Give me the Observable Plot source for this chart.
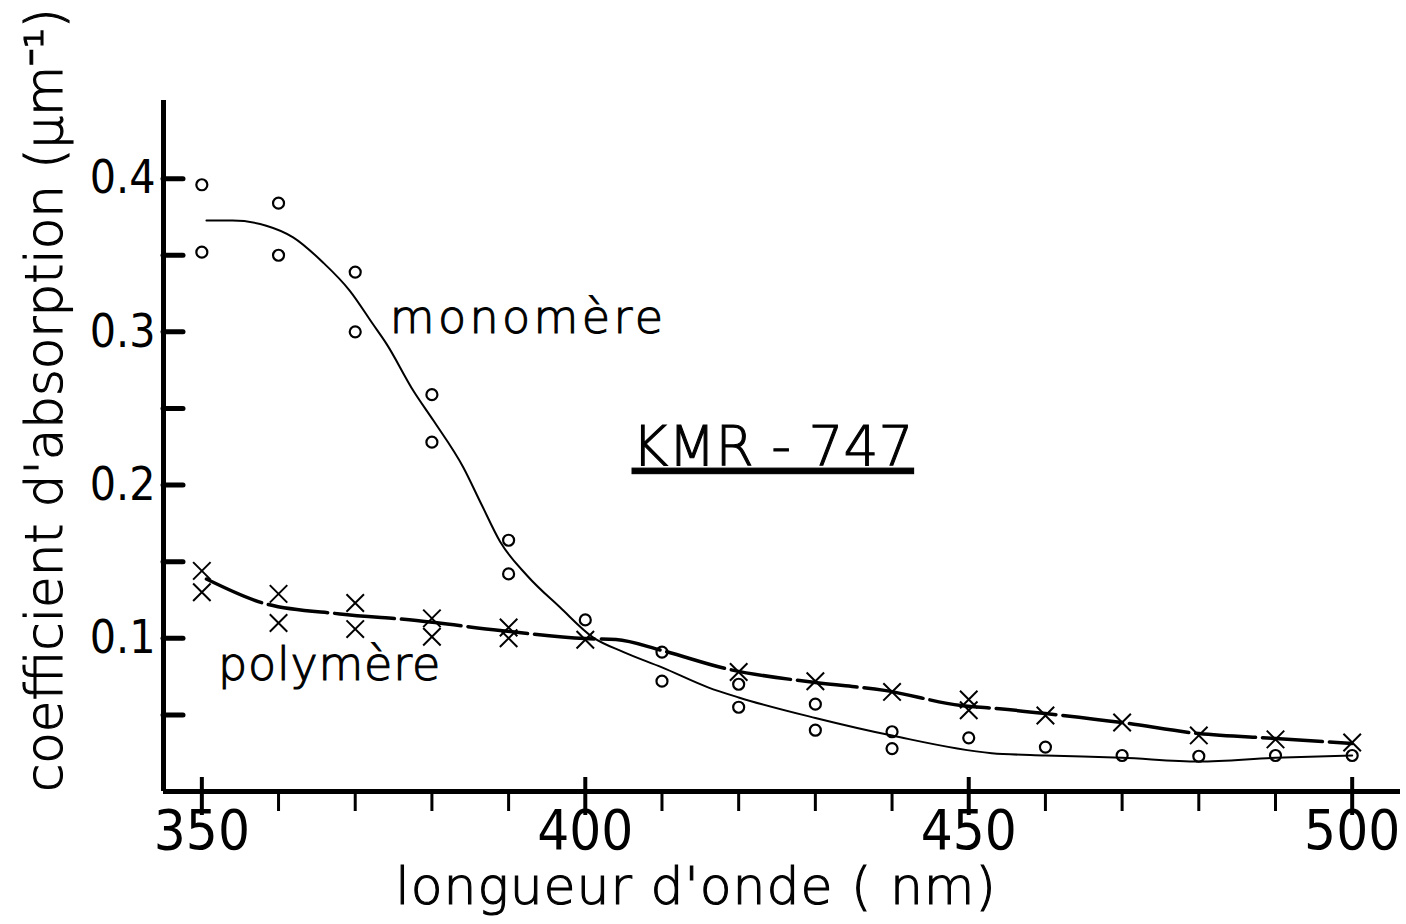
<!DOCTYPE html>
<html><head><meta charset="utf-8">
<script src="https://cdn.jsdelivr.net/npm/d3@7"></script>
<script src="https://cdn.jsdelivr.net/npm/@observablehq/plot@0.6"></script>
<style>body{margin:0;background:#fff} svg{display:block}</style>
</head><body><div id="chart"></div>
<script>
// measured points: monomère (circles)
const monoX = [350,350,360,360,370,370,380,380,390,390,400,410,410,420,420,430,430,440,440,450,460,470,480,490,500];
const monoY = [0.396,0.352,0.384,0.350,0.339,0.300,0.259,0.228,0.164,0.142,0.112,0.091,0.072,0.070,0.055,0.057,0.040,0.039,0.028,0.035,0.029,0.0235,0.023,0.0235,0.0235];
// measured points: polymère (crosses)
const polyX = [350,350,360,360,370,370,380,380,390,390,400,420,430,440,450,450,460,470,480,490,500];
const polyY = [0.144,0.130,0.129,0.110,0.123,0.106,0.113,0.101,0.107,0.100,0.099,0.078,0.072,0.065,0.060,0.053,0.0496,0.045,0.0366,0.034,0.032];
// hand-drawn fitted curves
const monoCurveX = [350.6,354,358.4,361.9,365.8,369.3,372.3,374.1,377.6,380.2,384.1,386.5,388.9,392.4,396.7,401,405,410,416,420,430,440,453,460,470,480,490,500];
const monoCurveY = [0.3726,0.3726,0.3693,0.3617,0.3453,0.3268,0.3051,0.292,0.2614,0.2421,0.2115,0.187,0.163,0.141,0.1202,0.1006,0.091,0.081,0.068,0.0614,0.048,0.0365,0.025,0.0235,0.022,0.0196,0.022,0.0235];
const polyCurveX = [350.6,358.4,368,378,388.9,400,404,410,418.5,430,439,449,454,460,470,480,490,500];
const polyCurveY = [0.1387,0.1224,0.1159,0.1116,0.1051,0.0998,0.0992,0.092,0.080,0.0711,0.066,0.0561,0.054,0.0509,0.045,0.0378,0.0346,0.0313];
// axes
const xLabelTicks = [350,400,450,500];
const xMinorTicks = [360,370,380,390,410,420,430,440,460,470,480,490];
const yLabelTicks = [0.1,0.2,0.3,0.4];
const yTicks = [0.05,0.1,0.15,0.2,0.25,0.3,0.35,0.4];
const xTitle = "longueur d'onde ( nm)";
const yTitle = "coefficient d'absorption (\u03bcm\u207b\u00b9)";
// annotations
const annotText = ["monomère","polymère","KMR - 747"];
const annotX = [374.5, 352.1, 406.1];
const annotY = [0.309, 0.0822, 0.2245];
const annotSize = [46, 46, 55];

const mono = monoX.map((x,i)=>({x, y: monoY[i]}));
const poly = polyX.map((x,i)=>({x, y: polyY[i]}));
const monoCurve = monoCurveX.map((x,i)=>({x, y: monoCurveY[i]}));
const polyCurve = polyCurveX.map((x,i)=>({x, y: polyCurveY[i]}));
const annots = annotText.map((t,i)=>({t, x: annotX[i], y: annotY[i], s: annotSize[i]}));

const chart = Plot.plot({
  width: 1406, height: 924,
  marginLeft: 163, marginRight: 6, marginTop: 100, marginBottom: 133,
  x: {domain: [345, 506.3]},
  y: {domain: [0, 0.451]},
  style: {background: "white", color: "black", fontFamily: "DejaVu Sans", fontWeight: 200},
  marks: [
    Plot.line(monoCurve, {x: "x", y: "y", curve: "monotone-x", stroke: "black", strokeWidth: 2}),
    Plot.line(polyCurve, {x: "x", y: "y", curve: "monotone-x", stroke: "black", strokeWidth: 3.5, strokeDasharray: "60 7"}),
    Plot.dot(mono, {x: "x", y: "y", r: 5.5, stroke: "black", strokeWidth: 2.2, fill: "none"}),
    Plot.dot(poly, {x: "x", y: "y", symbol: "times", r: 8, stroke: "black", strokeWidth: 2}),
    Plot.ruleX([345], {strokeWidth: 5, stroke: "black"}),
    Plot.ruleY([0], {strokeWidth: 5, stroke: "black"}),
    Plot.axisY({ticks: yLabelTicks, tickSize: 0, tickPadding: 8, fontSize: 46, fontFamily: "DejaVu Sans Condensed", tickFormat: d => d.toFixed(1), label: null}),
    Plot.axisY({ticks: yTicks, tickSize: -20, strokeWidth: 5, strokeLinecap: "round", text: null, label: null}),
    Plot.axisX({ticks: xLabelTicks, tickSize: 0, tickPadding: 18, fontSize: 56, fontFamily: "DejaVu Sans Condensed", label: null}),
    Plot.axisX({ticks: xLabelTicks, tickSize: 24, strokeWidth: 4, text: null, label: null}),
    Plot.axisX({ticks: xLabelTicks, tickSize: -14, strokeWidth: 4, text: null, label: null}),
    Plot.axisX({ticks: xMinorTicks, tickSize: 20, strokeWidth: 3, text: null, label: null}),
    Plot.text([yTitle], {frameAnchor: "left", rotate: -90, dx: -118, dy: -46, fontSize: 51.5, textAnchor: "middle", lineAnchor: "middle"}),
    Plot.text([xTitle], {frameAnchor: "bottom", dx: -86, dy: 96, fontSize: 52, lineAnchor: "middle"}),
    Plot.text(annots, {x: "x", y: "y", text: "t", fontSize: "s", textAnchor: "start", lineAnchor: "middle"})
  ]
});
document.getElementById("chart").appendChild(chart);
const texts = d3.select(chart).selectAll("text");
const light = new Set([...annotText, xTitle, yTitle]);
texts.filter(function(){ return light.has(this.textContent); })
  .style("stroke", "black").style("stroke-width", "1.1px");
texts.filter(function(){ return this.textContent === "KMR - 747"; })
  .attr("text-decoration", "underline")
  .style("text-underline-offset", "10px")
  .style("text-decoration-thickness", "3px");
texts.filter(function(){ return this.textContent === "monomère"; }).style("letter-spacing", "3.4px");
texts.filter(function(){ return this.textContent === "polymère"; }).style("letter-spacing", "0.8px");
texts.filter(function(){ return this.textContent === xTitle; }).style("letter-spacing", "1px");
</script>
</body></html>
